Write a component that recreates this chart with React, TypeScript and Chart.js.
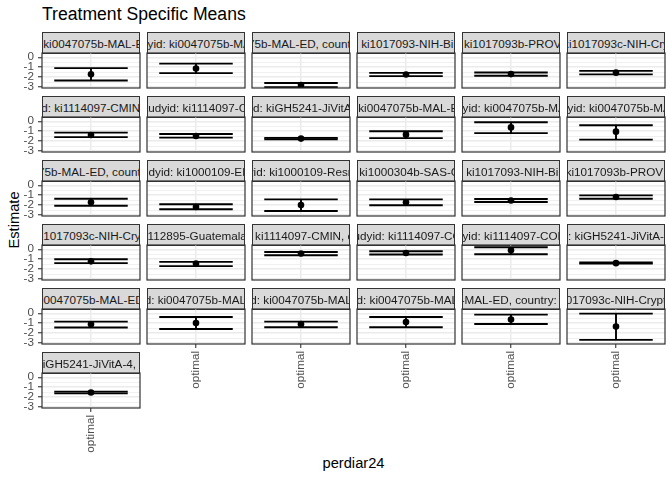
import React, { useEffect, useRef } from 'react';
import { Chart, registerables } from 'chart.js';

Chart.register(...registerables);

// ---- data ----
const plotTitle = 'Treatment Specific Means';
const xAxisTitle = 'perdiar24';
const yAxisTitle = 'Estimate';
const xCategories = ['optimal'];
const yTickValues = [0, -1, -2, -3];
const yTickLabels = ['0', '-1', '-2', '-3'];
const yMinorValues = [-0.5, -1.5, -2.5];

const facetLabels = [
  'd: ki0047075b-MAL-ED', 'dyid: ki0047075b-MA', '075b-MAL-ED, country', ': ki1017093-NIH-Bir', ': ki1017093b-PROVI', 'ki1017093c-NIH-Cry',
  'id: ki1114097-CMIN,', 'tudyid: ki1114097-C', 'id: kiGH5241-JiVitA', 'd: ki0047075b-MAL-ED', 'dyid: ki0047075b-MA', 'dyid: ki0047075b-MA',
  '075b-MAL-ED, country', 'udyid: ki1000109-EE', 'yid: ki1000109-Resn', ': ki1000304b-SAS-C', ': ki1017093-NIH-Bir', 'ki1017093b-PROVI',
  'ki1017093c-NIH-Cryp', '1112895-Guatemala, ', ': ki1114097-CMIN, c', 'tudyid: ki1114097-CO', 'dyid: ki1114097-CON', 'd: kiGH5241-JiVitA-4',
  'ki0047075b-MAL-ED,', 'id: ki0047075b-MAL-', 'd: ki0047075b-MAL', 'id: ki0047075b-MAL', 'b-MAL-ED, country: B', '1017093c-NIH-Crypto',
  'kiGH5241-JiVitA-4, c',
];

const estimates = [
  -1.72, -1.13, -2.8, -1.74, -1.7, -1.55,
  -1.38, -1.48, -1.75, -1.35, -0.62, -1.05,
  -1.72, -2.19, -2.0, -1.72, -1.53, -1.19,
  -1.22, -1.45, -0.43, -0.37, -0.1, -1.4,
  -1.12, -0.98, -1.1, -0.88, -0.64, -1.33,
  -1.53,
];
const lowerCI = [
  -2.34, -1.6, -3.03, -1.9, -1.87, -1.73,
  -1.6, -1.65, -1.82, -1.7, -1.2, -1.85,
  -2.06, -2.42, -2.6, -2.02, -1.69, -1.36,
  -1.4, -1.7, -0.6, -0.53, -0.5, -1.45,
  -1.44, -1.58, -1.41, -1.41, -1.08, -2.68,
  -1.62,
];
const upperCI = [
  -1.1, -0.64, -2.6, -1.57, -1.54, -1.37,
  -1.15, -1.28, -1.68, -1.0, -0.1, -0.4,
  -1.36, -1.92, -1.42, -1.42, -1.39, -1.02,
  -1.0, -1.27, -0.27, -0.2, 0.21, -1.33,
  -0.84, -0.38, -0.84, -0.38, -0.14, -0.04,
  -1.45,
];

// ---- layout / style ----
const FONT = '"Liberation Sans", Arial, Helvetica, sans-serif';
const NCOL = 6;
const PANEL_W = 98;
const PANEL_H = 35;
const STRIP_H = 21;
const COL_PITCH = 105;
const ROW_PITCH = 64;
const LEFT0 = 42;
const TOP0 = 32;
const Y_AXIS_W = 22;
const X_AXIS_H = 52;
const PAD_X = 2;
const PAD_Y = 14;
const Y_MIN = -3.1;
const Y_MAX = 0.43;
const X_MIN = 0.4;
const X_MAX = 1.6;
const BAR_HALF = 0.45;
const GRID = '#EBEBEB';
const DARK = '#333333';
const TICK_TEXT = '#4D4D4D';

const borderPlugin = {
  id: 'panelBorder',
  afterDraw(chart: any) {
    const { ctx, chartArea: a } = chart;
    ctx.save();
    ctx.strokeStyle = DARK;
    ctx.lineWidth = 1.2;
    ctx.strokeRect(a.left, a.top, a.right - a.left, a.bottom - a.top);
    ctx.restore();
  },
};

function Panel({ i }: { i: number }) {
  const ref = useRef<HTMLCanvasElement | null>(null);
  const row = Math.floor(i / NCOL);
  const col = i % NCOL;
  const hasY = col === 0;
  const hasX = i === facetLabels.length - 1 || (row === 4 && col >= 1);
  const panelLeft = LEFT0 + col * COL_PITCH;
  const stripTop = TOP0 + row * ROW_PITCH;
  const panelTop = stripTop + STRIP_H;
  const cw = PANEL_W + 2 * PAD_X + (hasY ? Y_AXIS_W : 0);
  const ch = PANEL_H + 2 * PAD_Y + (hasX ? X_AXIS_H : 0);
  const cLeft = panelLeft - PAD_X - (hasY ? Y_AXIS_W : 0);
  const cTop = panelTop - PAD_Y;

  useEffect(() => {
    const line = (pts: any[]) => ({
      type: 'scatter' as const,
      data: pts,
      showLine: true,
      borderColor: '#000000',
      borderWidth: 1.9,
      pointRadius: 0,
      pointHoverRadius: 0,
    });
    const xPos = 1; // position of category xCategories[0]
    const chart = new Chart(ref.current as HTMLCanvasElement, {
      type: 'scatter',
      data: {
        datasets: [
          {
            data: [{ x: xPos, y: estimates[i] }],
            pointRadius: 3.3,
            pointBackgroundColor: '#000000',
            pointBorderColor: '#000000',
            pointBorderWidth: 0,
            showLine: false,
          } as any,
          line([{ x: xPos, y: lowerCI[i] }, { x: xPos, y: upperCI[i] }]),
          line([{ x: xPos - BAR_HALF, y: lowerCI[i] }, { x: xPos + BAR_HALF, y: lowerCI[i] }]),
          line([{ x: xPos - BAR_HALF, y: upperCI[i] }, { x: xPos + BAR_HALF, y: upperCI[i] }]),
        ],
      },
      options: {
        animation: false,
        responsive: false,
        events: [],
        layout: { padding: { left: PAD_X, right: PAD_X, top: PAD_Y, bottom: PAD_Y }, autoPadding: false } as any,
        plugins: { legend: { display: false }, tooltip: { enabled: false }, title: { display: false } },
        scales: {
          x: {
            type: 'linear',
            min: X_MIN,
            max: X_MAX,
            afterBuildTicks: (s: any) => {
              s.ticks = xCategories.map((_, k) => ({ value: k + 1 }));
            },
            afterFit: (s: any) => {
              s.height = hasX ? X_AXIS_H : 0;
            },
            ticks: {
              display: hasX,
              autoSkip: false,
              minRotation: 90,
              maxRotation: 90,
              padding: 3,
              color: TICK_TEXT,
              font: { family: FONT, size: 11.7 },
              callback: (v: any) => xCategories[Math.round(Number(v)) - 1] ?? '',
            },
            grid: {
              color: GRID,
              lineWidth: 1.5,
              drawTicks: hasX,
              tickLength: 4,
              tickColor: DARK,
              tickWidth: 1.1,
            },
            border: { display: false },
          },
          y: {
            type: 'linear',
            min: Y_MIN,
            max: Y_MAX,
            afterBuildTicks: (s: any) => {
              s.ticks = [...yTickValues, ...yMinorValues].sort((a, b) => a - b).map((v) => ({ value: v }));
            },
            afterFit: (s: any) => {
              s.width = hasY ? Y_AXIS_W : 0;
            },
            ticks: {
              display: hasY,
              autoSkip: false,
              padding: 4,
              color: TICK_TEXT,
              font: { family: FONT, size: 11.7 },
              callback: (v: any) => {
                const k = yTickValues.indexOf(Number(v));
                return k >= 0 ? yTickLabels[k] : '';
              },
            },
            grid: {
              color: GRID,
              lineWidth: (c: any) => (yTickValues.includes(c.tick?.value) ? 1.5 : 0.75),
              drawTicks: hasY,
              tickLength: 4,
              tickColor: (c: any) => (yTickValues.includes(c.tick?.value) ? DARK : 'rgba(0,0,0,0)'),
              tickWidth: 1.1,
            },
            border: { display: false },
          },
        },
      },
      plugins: [borderPlugin],
    } as any);
    return () => chart.destroy();
  }, []);

  return (
    <>
      <div
        style={{
          position: 'absolute',
          left: panelLeft,
          top: stripTop,
          width: PANEL_W,
          height: STRIP_H + 1,
          boxSizing: 'border-box',
          border: `1.2px solid ${DARK}`,
          background: '#D9D9D9',
          display: 'flex',
          justifyContent: 'center',
          alignItems: 'center',
          overflow: 'hidden',
          whiteSpace: 'nowrap',
          fontFamily: FONT,
          fontSize: 11.7,
          color: '#1A1A1A',
        }}
      >
        <span style={{ flexShrink: 0 }}>{facetLabels[i]}</span>
      </div>
      <canvas
        ref={ref}
        width={cw}
        height={ch}
        style={{ position: 'absolute', left: cLeft, top: cTop, width: cw, height: ch }}
      />
    </>
  );
}

export default function App() {
  return (
    <div
      style={{
        position: 'absolute',
        left: 0,
        top: 0,
        width: 672,
        height: 480,
        background: '#FFFFFF',
        overflow: 'hidden',
        fontFamily: FONT,
      }}
    >
      <div style={{ position: 'absolute', left: 42, top: 6, fontSize: 17.6, lineHeight: '17.6px', color: '#000', whiteSpace: 'nowrap' }}>
        {plotTitle}
      </div>
      <div
        style={{
          position: 'absolute',
          left: 14,
          top: 220,
          transform: 'translate(-50%, -50%) rotate(-90deg)',
          fontSize: 14.7,
          lineHeight: '14.7px',
          color: '#000',
          whiteSpace: 'nowrap',
        }}
      >
        {yAxisTitle}
      </div>
      <div
        style={{
          position: 'absolute',
          left: 353.5,
          top: 456,
          transform: 'translateX(-50%)',
          fontSize: 14.7,
          lineHeight: '14.7px',
          color: '#000',
          whiteSpace: 'nowrap',
        }}
      >
        {xAxisTitle}
      </div>
      {facetLabels.map((_, i) => (
        <Panel key={i} i={i} />
      ))}
    </div>
  );
}
